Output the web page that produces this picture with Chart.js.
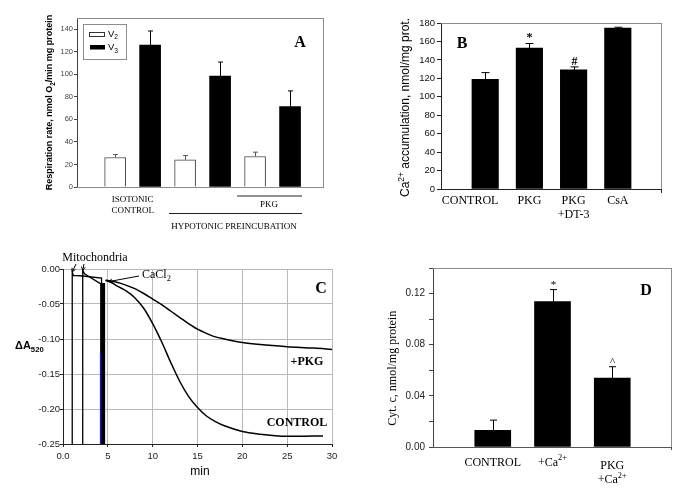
<!DOCTYPE html>
<html>
<head>
<meta charset="utf-8">
<script src="https://cdn.jsdelivr.net/npm/chart.js@4.4.0/dist/chart.umd.min.js"></script>
<style>
html, body { margin: 0; padding: 0; background: #fff; }
#wrap { position: relative; width: 685px; height: 496px; overflow: hidden; }
canvas { position: absolute; }
</style>
</head>
<body>
<div id="wrap">
  <canvas id="chartA" width="340" height="245" style="left:0;top:0"></canvas>
  <canvas id="chartB" width="345" height="245" style="left:340px;top:0"></canvas>
  <canvas id="chartC" width="345" height="251" style="left:0;top:245px"></canvas>
  <canvas id="chartD" width="340" height="251" style="left:345px;top:245px"></canvas>
</div>
<script>
// ---- panel A: respiration rates
var groupsA = ['ISOTONIC CONTROL', 'HYPOTONIC', 'HYPOTONIC + PKG'];
var v2 = [26.2, 24.1, 27.1];
var v2Err = [2.6, 3.8, 3.8];
var v3 = [126, 98.4, 71.3];
var v3Err = [12.5, 12.5, 14];

// ---- panel B: Ca2+ accumulation
var labelsB = ['CONTROL', 'PKG', 'PKG\n+DT-3', 'CsA'];
var caUptake = [118.9, 152.7, 129.1, 174.6];
var caUptakeErr = [7.3, 5.1, 3.3, 0.8];
var marksB = ['', '*', '#', ''];

// ---- panel C: swelling traces (min, dA520)
var ctrlTime = [4.75, 5.5, 6, 7, 8, 9, 10, 11, 12, 13, 14, 15, 16, 17, 18, 20, 22, 24, 26, 29];
var ctrlA520 = [-0.016, -0.02, -0.024, -0.031, -0.041, -0.056, -0.078, -0.104, -0.133, -0.16, -0.182, -0.198, -0.21, -0.218, -0.224, -0.232, -0.236, -0.2385, -0.239, -0.2385];
var pkgTime = [4.75, 6, 7, 8, 9, 10, 11, 12, 13, 14, 15, 16, 17, 18, 20, 22, 25, 28, 30];
var pkgA520 = [-0.016, -0.019, -0.023, -0.028, -0.035, -0.043, -0.051, -0.06, -0.069, -0.078, -0.086, -0.092, -0.097, -0.1, -0.105, -0.108, -0.111, -0.113, -0.115];
// additions (mitochondria, CaCl2) seen as recorder spikes
var addTime1 = [1.03, 1.03, 1.15, 2.2, 4.3, 4.3];
var addA1 = [-0.25, -0.004, -0.009, -0.01, -0.013, -0.25];
var addTime2 = [2.2, 2.2, 2.4, 4.3];
var addA2 = [-0.25, -0.002, -0.007, -0.022];
var bandTime = [4.42, 4.42];
var bandA = [-0.25, -0.02];
var blueTime = [4.2, 4.2];
var blueA = [-0.25, -0.12];

// ---- panel D: cytochrome c release
var labelsD = ['CONTROL', '+Ca^{2+}', 'PKG\n+Ca^{2+}'];
var cytC = [0.013, 0.1138, 0.0539];
var cytCErr = [0.008, 0.0093, 0.0089];
var marksD = ['', '*', '^'];

var SANS = "'Liberation Sans', Arial, sans-serif";
var SERIF = "'Liberation Serif', 'Times New Roman', serif";

function pts(xs, ys) { return xs.map(function (x, i) { return {x: x, y: ys[i]}; }); }

// text with _{sub} and ^{sup}
function parts(s) {
    var out = [], re = /([_^])\{([^}]*)\}/g, last = 0, m;
    while ((m = re.exec(s))) {
        if (m.index > last) out.push({t: s.slice(last, m.index), k: ''});
        out.push({t: m[2], k: m[1]});
        last = re.lastIndex;
    }
    if (last < s.length) out.push({t: s.slice(last), k: ''});
    return out;
}
function rich(ctx, s, x, y, size, family, weight, align) {
    var ps = parts(s), w = 0;
    var fnt = function (k) { return (weight || 'normal') + ' ' + (k ? size * 0.7 : size) + 'px ' + family; };
    ps.forEach(function (p) { ctx.font = fnt(p.k); p.w = ctx.measureText(p.t).width; w += p.w; });
    var cx = align === 'left' ? x : (align === 'right' ? x - w : x - w / 2);
    ctx.textAlign = 'left';
    ctx.textBaseline = 'middle';
    ps.forEach(function (p) {
        ctx.font = fnt(p.k);
        var dy = p.k === '_' ? size * 0.35 : (p.k === '^' ? -size * 0.35 : 0);
        ctx.fillText(p.t, cx, y + dy);
        cx += p.w;
    });
}
function richV(ctx, s, x, y, size, family, weight) {
    ctx.save();
    ctx.translate(x, y);
    ctx.rotate(-Math.PI / 2);
    rich(ctx, s, 0, 0, size, family, weight, 'center');
    ctx.restore();
}
function lines(ctx, s, x, y, lh, size, family, align) {
    s.split('\n').forEach(function (l, i) { rich(ctx, l, x, y + i * lh, size, family, 'normal', align || 'center'); });
}
function letter(ctx, s, x, y) {
    ctx.font = 'bold 16px ' + SERIF;
    ctx.textAlign = 'center';
    ctx.textBaseline = 'alphabetic';
    ctx.fillText(s, x, y);
}
function seg(ctx, x1, y1, x2, y2) { ctx.beginPath(); ctx.moveTo(x1, y1); ctx.lineTo(x2, y2); ctx.stroke(); }
function arrow(ctx, x1, y1, x2, y2) {
    var a = Math.atan2(y2 - y1, x2 - x1), h = 4;
    ctx.beginPath();
    ctx.moveTo(x1, y1); ctx.lineTo(x2, y2);
    ctx.moveTo(x2 - h * Math.cos(a - 0.5), y2 - h * Math.sin(a - 0.5));
    ctx.lineTo(x2, y2);
    ctx.lineTo(x2 - h * Math.cos(a + 0.5), y2 - h * Math.sin(a + 0.5));
    ctx.stroke();
}
// gray frame round the plot
function frame(chart, bottomColor) {
    var c = chart.ctx, a = chart.chartArea;
    c.save();
    c.lineWidth = 1;
    c.strokeStyle = '#8c8c8c';
    seg(c, a.left, a.top + 0.5, a.right, a.top + 0.5);
    seg(c, a.right - 0.5, a.top, a.right - 0.5, a.bottom);
    c.strokeStyle = bottomColor;
    seg(c, a.left, a.bottom + 0.5, a.right, a.bottom + 0.5);
    c.restore();
}

// error bars + significance marks, read from dataset.errors / dataset.marks
Chart.register({
    id: 'errorBars',
    afterDatasetsDraw: function (chart) {
        var ctx = chart.ctx, ys = chart.scales.y;
        chart.data.datasets.forEach(function (ds, di) {
            if (!ds.errors) return;
            chart.getDatasetMeta(di).data.forEach(function (bar, i) {
                var top = ys.getPixelForValue(ds.data[i].y + ds.errors[i]);
                var half = (ds.capWidth || 6) / 2;
                var x = Math.round(bar.x) + 0.5;
                ctx.save();
                ctx.strokeStyle = ds.errorColor || '#000';
                ctx.lineWidth = 1;
                ctx.beginPath();
                ctx.moveTo(x, bar.y);
                ctx.lineTo(x, top);
                ctx.moveTo(x - half, top);
                ctx.lineTo(x + half, top);
                ctx.stroke();
                if (ds.marks && ds.marks[i]) {
                    ctx.fillStyle = '#000';
                    ctx.font = ds.markFont;
                    ctx.textAlign = 'center';
                    ctx.textBaseline = 'alphabetic';
                    ctx.fillText(ds.marks[i], x, top - 2);
                }
                ctx.restore();
            });
        });
    }
});

var base = {
    responsive: false,
    animation: false,
    events: [],
    plugins: {legend: {display: false}, tooltip: {enabled: false}}
};
function opts(extra) { return Object.assign({}, base, extra); }

// ================= A =================
new Chart(document.getElementById('chartA'), {
    type: 'bar',
    data: {
        datasets: [{
            label: 'V2',
            data: v2.map(function (v, i) { return {x: 2 * i, y: v}; }),
            errors: v2Err, errorColor: '#555', capWidth: 5,
            backgroundColor: '#fff', borderColor: '#444', borderWidth: 1,
            barThickness: 21, grouped: false
        }, {
            label: 'V3',
            data: v3.map(function (v, i) { return {x: 2 * i + 1, y: v}; }),
            errors: v3Err, capWidth: 5,
            backgroundColor: '#000', borderWidth: 0,
            barThickness: 21, grouped: false
        }]
    },
    options: opts({
        layout: {padding: {top: 18, right: 16, bottom: 58, left: 0}},
        scales: {
            x: {type: 'linear', display: false, min: -1.09, max: 5.97, offset: false},
            y: {
                min: 0, max: 150,
                afterFit: function (s) { s.width = 77; },
                ticks: {stepSize: 20, includeBounds: false, font: {family: SANS, size: 7.5}, color: '#444', padding: 1},
                grid: {drawOnChartArea: false, tickLength: 3, color: '#444'},
                border: {color: '#444'}
            }
        }
    }),
    plugins: [{
        id: 'extrasA',
        beforeDatasetsDraw: function (chart) { frame(chart, '#8c8c8c'); },
        afterDraw: function (chart) {
            var c = chart.ctx, xs = chart.scales.x;
            c.save();
            c.fillStyle = '#000';
            richV(c, 'Respiration rate, nmol O_{2}/min mg protein', 50, 102.5, 9, SANS, 'bold');
            // legend
            c.strokeStyle = '#8c8c8c';
            c.lineWidth = 1;
            c.strokeRect(83.5, 24.5, 43, 35);
            c.strokeStyle = '#333';
            c.strokeRect(89.5, 32.5, 15, 4);
            c.fillRect(90, 45, 15, 4.5);
            rich(c, 'V_{2}', 108, 34, 9.5, SANS, 'normal', 'left');
            rich(c, 'V_{3}', 108, 47.5, 9.5, SANS, 'normal', 'left');
            letter(c, 'A', 300, 46.5);
            // group captions
            lines(c, 'ISOTONIC\nCONTROL', xs.getPixelForValue(0.5), 200, 10.7, 9, SERIF);
            c.strokeStyle = '#222';
            c.lineWidth = 1.2;
            seg(c, 237, 196, 302, 196);
            seg(c, 169, 213.5, 302, 213.5);
            lines(c, 'PKG', 269, 204.5, 10, 9, SERIF);
            lines(c, 'HYPOTONIC PREINCUBATION', 234, 226.7, 10, 9, SERIF);
            c.restore();
        }
    }]
});

// ================= B =================
new Chart(document.getElementById('chartB'), {
    type: 'bar',
    data: {
        datasets: [{
            data: caUptake.map(function (v, i) { return {x: i + 1, y: v}; }),
            errors: caUptakeErr, capWidth: 8, marks: marksB, markFont: 'bold 12px ' + SERIF,
            backgroundColor: '#000', borderWidth: 0,
            barThickness: 26.5, grouped: false
        }]
    },
    options: opts({
        layout: {padding: {top: 23, right: 23, bottom: 56, left: 0}},
        scales: {
            x: {type: 'linear', display: false, min: 0, max: 5, offset: false},
            y: {
                min: 0, max: 180,
                afterFit: function (s) { s.width = 101; },
                ticks: {stepSize: 20, font: {family: SANS, size: 9.5}, color: '#111', padding: 2},
                grid: {drawOnChartArea: false, tickLength: 4, color: '#222'},
                border: {color: '#222'}
            }
        }
    }),
    plugins: [{
        id: 'extrasB',
        beforeDatasetsDraw: function (chart) { frame(chart, '#222'); },
        afterDraw: function (chart) {
            var c = chart.ctx, xs = chart.scales.x, a = chart.chartArea;
            var bars = chart.getDatasetMeta(0).data;
            c.save();
            c.fillStyle = '#000';
            c.strokeStyle = '#222';
            seg(c, a.right - 0.5, a.bottom, a.right - 0.5, a.bottom + 4);
            richV(c, 'Ca^{2+} accumulation, nmol/mg prot.', 65.8, 107.5, 12, SANS, 'normal');
            letter(c, 'B', 122, 48.3);
            labelsB.forEach(function (l, i) {
                // the first caption sits flush with the right edge of its bar
                if (i === 0) lines(c, l, bars[0].x + bars[0].width / 2, 201, 14, 12, SERIF, 'right');
                else lines(c, l, xs.getPixelForValue(i + 1), 201, 14, 12, SERIF);
            });
            c.restore();
        }
    }]
});

// ================= C =================
var thin = {borderColor: '#000', borderWidth: 1.3, pointRadius: 0, tension: 0, fill: false};
new Chart(document.getElementById('chartC'), {
    type: 'line',
    data: {
        datasets: [
            Object.assign({}, thin, {data: pts(blueTime, blueA), borderColor: '#1c1c8a', borderWidth: 1.6}),
            Object.assign({}, thin, {data: pts(ctrlTime, ctrlA520), borderWidth: 1.5, cubicInterpolationMode: 'monotone'}),
            Object.assign({}, thin, {data: pts(pkgTime, pkgA520), borderWidth: 1.5, cubicInterpolationMode: 'monotone'}),
            Object.assign({}, thin, {data: pts(addTime1, addA1)}),
            Object.assign({}, thin, {data: pts(addTime2, addA2)}),
            Object.assign({}, thin, {data: pts(bandTime, bandA), borderWidth: 5, borderCapStyle: 'butt'})
        ]
    },
    options: opts({
        layout: {padding: {top: 24, right: 13, bottom: 0, left: 0}},
        scales: {
            x: {
                type: 'linear', min: 0, max: 30,
                afterFit: function (s) { s.height = 52; },
                ticks: {stepSize: 5, font: {family: SANS, size: 9.5}, color: '#222', padding: 4,
                    callback: function (v) { return v === 0 ? '0.0' : String(v); }},
                grid: {color: '#b9b9b9', tickColor: '#222', tickLength: 3},
                border: {color: '#222'}
            },
            y: {
                min: -0.25, max: 0,
                afterFit: function (s) { s.width = 63; },
                ticks: {stepSize: 0.05, font: {family: SANS, size: 9.5}, color: '#222', padding: 0,
                    callback: function (v) { return v.toFixed(2); }},
                grid: {color: '#b9b9b9', tickColor: '#222', tickLength: 3},
                border: {color: '#222'}
            }
        }
    }),
    plugins: [{
        id: 'extrasC',
        afterDraw: function (chart) {
            var c = chart.ctx, xs = chart.scales.x, ys = chart.scales.y;
            c.save();
            c.fillStyle = '#000';
            c.strokeStyle = '#000';
            c.lineWidth = 1;
            rich(c, 'Mitochondria', 95, 13, 12, SERIF, 'normal', 'center');
            arrow(c, 76, 19, xs.getPixelForValue(addTime1[1]), ys.getPixelForValue(addA1[1]));
            arrow(c, 84, 19, xs.getPixelForValue(addTime2[1]), ys.getPixelForValue(addA2[1]));
            rich(c, 'CaCl_{2}', 142, 30, 12, SERIF, 'normal', 'left');
            arrow(c, 139, 31, xs.getPixelForValue(5.1), ys.getPixelForValue(-0.018));
            rich(c, '+PKG', 307, 117, 12, SERIF, 'bold', 'center');
            rich(c, 'CONTROL', 297, 178.3, 12, SERIF, 'bold', 'center');
            letter(c, 'C', 321, 48.3);
            rich(c, '\u0394A_{520}', 15, 101, 11, SANS, 'bold', 'left');
            rich(c, 'min', 200, 227, 12, SANS, 'normal', 'center');
            c.restore();
        }
    }]
});

// ================= D =================
new Chart(document.getElementById('chartD'), {
    type: 'bar',
    data: {
        datasets: [{
            data: cytC.map(function (v, i) { return {x: i + 1, y: v}; }),
            errors: cytCErr, capWidth: 7, marks: marksD, markFont: '11px ' + SERIF,
            backgroundColor: '#000', borderWidth: 0,
            barThickness: 36, grouped: false
        }]
    },
    options: opts({
        layout: {padding: {top: 23, right: 13, bottom: 49, left: 0}},
        scales: {
            x: {type: 'linear', display: false, min: 0, max: 4, offset: false},
            y: {
                min: 0, max: 0.14,
                afterFit: function (s) { s.width = 88; },
                ticks: {stepSize: 0.02, font: {family: SANS, size: 10}, color: '#222', padding: 4,
                    callback: function (v, i) { return (i % 2 === 0 && i <= 6) ? v.toFixed(2) : ''; }},
                grid: {drawOnChartArea: false, tickLength: 4, color: '#444'},
                border: {color: '#444'}
            }
        }
    }),
    plugins: [{
        id: 'extrasD',
        beforeDatasetsDraw: function (chart) { frame(chart, '#555'); },
        afterDraw: function (chart) {
            var c = chart.ctx, xs = chart.scales.x, a = chart.chartArea;
            c.save();
            c.fillStyle = '#000';
            c.strokeStyle = '#555';
            seg(c, a.right - 0.5, a.bottom, a.right - 0.5, a.bottom + 3);
            richV(c, 'Cyt. c, nmol/mg protein', 48.3, 123.3, 12, SERIF, 'normal');
            letter(c, 'D', 301, 50);
            labelsD.forEach(function (l, i) {
                var multi = l.indexOf('\n') >= 0;
                lines(c, l, xs.getPixelForValue(i + 1), multi ? 220.5 : 217.5, 14.5, 12, SERIF);
            });
            c.restore();
        }
    }]
});
</script>
</body>
</html>
